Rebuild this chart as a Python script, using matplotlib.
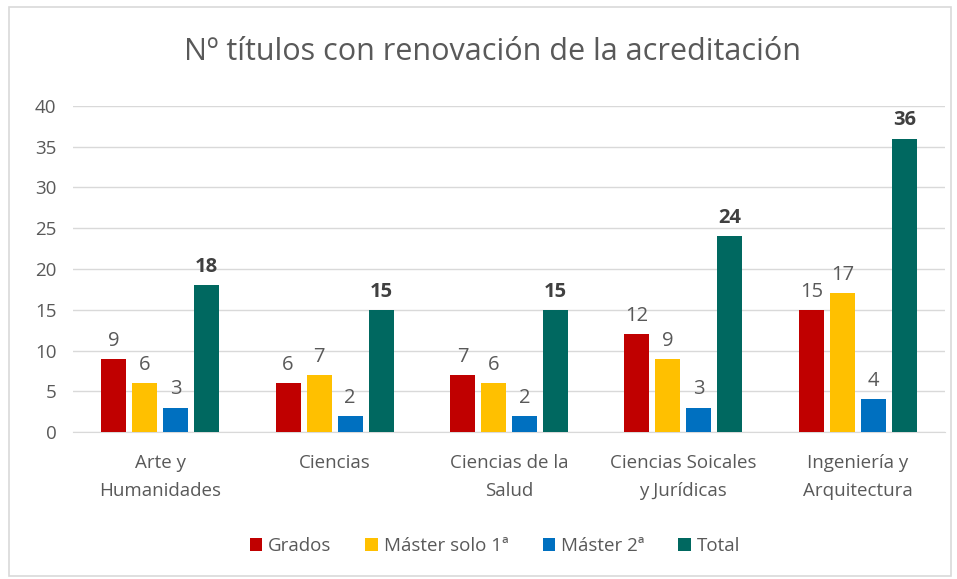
import matplotlib
matplotlib.use("Agg")
import matplotlib.pyplot as plt
import numpy as np
from matplotlib.patches import Rectangle

categories = ["Arte y\nHumanidades", "Ciencias", "Ciencias de la\nSalud",
              "Ciencias Soicales\ny Jurídicas", "Ingeniería y\nArquitectura"]
series_names = ["Grados", "Máster solo 1ª", "Máster 2ª", "Total"]
grados = [9, 6, 7, 12, 15]
master1 = [6, 7, 6, 9, 17]
master2 = [3, 2, 2, 3, 4]
total = [18, 15, 15, 24, 36]
colors = ["#C00000", "#FFC000", "#0070C0", "#006860"]
yticks = [0, 5, 10, 15, 20, 25, 30, 35, 40]

plt.rcParams['font.family'] = ['Open Sans', 'DejaVu Sans']
gray = "#595959"

fig = plt.figure(figsize=(9.57, 5.79), dpi=100)
fig.patches.append(Rectangle((0.009, 0.006), 0.985, 0.982, transform=fig.transFigure,
                             fill=False, edgecolor="#D9D9D9", linewidth=1.2))
ax = fig.add_axes([73/957, 1-432/579, (945-73)/957, (432-106)/579])

x = np.arange(len(categories))
w = 0.143
step = 0.178
data = [grados, master1, master2, total]
for i, (vals, c, name) in enumerate(zip(data, colors, series_names)):
    pos = x + (i - 1.5) * step
    bars = ax.bar(pos, vals, width=w, color=c, label=name, zorder=3)
    for b, v in zip(bars, vals):
        ax.text(b.get_x() + b.get_width()/2, v + 1.0, str(v), ha="center", va="bottom",
                fontsize=14.5, color=gray if i < 3 else "#404040",
                fontweight="bold" if i == 3 else "normal")

ax.set_ylim(0, 40)
ax.set_xlim(-0.5, len(categories) - 0.5)
ax.set_yticks(yticks)
ax.set_yticklabels([str(t) for t in yticks], fontsize=13.5, color=gray)
ax.set_xticks(x)
ax.set_xticklabels(categories, fontsize=13.5, color=gray, linespacing=1.7)
ax.tick_params(axis="both", length=0)
ax.tick_params(axis="x", pad=16)
ax.tick_params(axis="y", pad=12)
ax.grid(axis="y", color="#D9D9D9", linewidth=1, zorder=0)
for s in ["top", "right", "left"]:
    ax.spines[s].set_visible(False)
ax.spines["bottom"].set_color("#D9D9D9")

fig.text(492/957, 1-52/579, "Nº títulos con renovación de la acreditación",
         ha="center", va="center", fontsize=22, color=gray)

leg = ax.legend(loc="center", bbox_to_anchor=(495/957, 1-546/579),
                bbox_transform=fig.transFigure, ncol=4, frameon=False,
                fontsize=13.5, handlelength=0.65, handleheight=0.65,
                columnspacing=1.8, handletextpad=0.35)
for t in leg.get_texts():
    t.set_color(gray)

fig.savefig("out.png", dpi=100)
